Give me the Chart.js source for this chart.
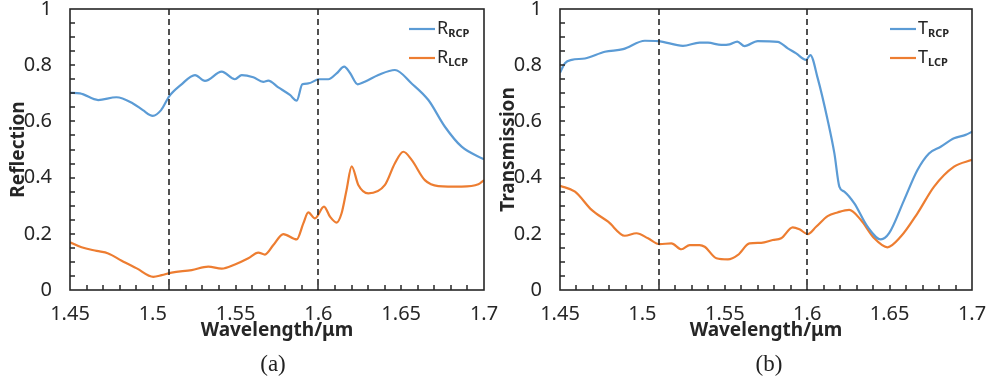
<!DOCTYPE html>
<html>
<head>
<meta charset="utf-8">
<script src="https://cdn.jsdelivr.net/npm/chart.js@4"></script>
<style>
  body { margin: 0; background: #fff; width: 986px; height: 381px; position: relative; overflow: hidden; }
  .box { position: absolute; top: 0; height: 381px; }
  .cap { position: absolute; top: 351px; width: 80px; text-align: center; line-height: 26px;
         font: 23px "Liberation Serif", serif; color: #222; }
</style>
</head>
<body>
<div class="box" style="left:0;width:510px"><canvas id="chartA"></canvas></div>
<div class="box" style="left:490px;width:496px"><canvas id="chartB"></canvas></div>
<div class="cap" style="left:233px">(a)</div>
<div class="cap" style="left:729px">(b)</div>
<script>
// (a) reflection
const wlRrcp = [1.450, 1.456, 1.467, 1.478, 1.488, 1.494, 1.500, 1.505, 1.510, 1.517, 1.5255, 1.5315, 1.5416,
  1.5496, 1.5537, 1.5607, 1.5667, 1.5697, 1.5758, 1.5828, 1.5869, 1.5903, 1.5939, 1.6004, 1.606, 1.611, 1.6156,
  1.619, 1.6237, 1.628, 1.6362, 1.6462, 1.6563, 1.6664, 1.6764, 1.6865, 1.700];
const rRcp = [0.702, 0.700, 0.676, 0.686, 0.664, 0.640, 0.620, 0.640, 0.690, 0.730, 0.765, 0.744, 0.777,
  0.750, 0.765, 0.757, 0.741, 0.745, 0.721, 0.694, 0.674, 0.732, 0.735, 0.750, 0.750, 0.771, 0.795,
  0.773, 0.732, 0.741, 0.765, 0.783, 0.735, 0.676, 0.581, 0.510, 0.465];
const wlRlcp = [1.450, 1.457, 1.4661, 1.4731, 1.4812, 1.4903, 1.5003, 1.5054, 1.5114, 1.5235, 1.5335, 1.5416,
  1.5496, 1.5577, 1.5637, 1.5677, 1.5728, 1.5788, 1.5869, 1.5909, 1.5939, 1.5979, 1.6034, 1.607, 1.611, 1.614,
  1.617, 1.6201, 1.6241, 1.6301, 1.6402, 1.6462, 1.6513, 1.6563, 1.6643, 1.6724, 1.6865, 1.6966, 1.700];
const rLcp = [0.170, 0.152, 0.139, 0.130, 0.104, 0.077, 0.047, 0.053, 0.062, 0.071, 0.083, 0.076,
  0.091, 0.113, 0.133, 0.126, 0.160, 0.199, 0.180, 0.237, 0.276, 0.255, 0.297, 0.261, 0.240, 0.273,
  0.356, 0.440, 0.374, 0.344, 0.374, 0.451, 0.492, 0.463, 0.391, 0.370, 0.368, 0.376, 0.391];

// (b) transmission
const wlTrcp = [1.450, 1.453, 1.4571, 1.4651, 1.4772, 1.4883, 1.5015, 1.5095, 1.5246, 1.5347, 1.5398, 1.5479,
  1.5529, 1.5576, 1.562, 1.570, 1.5821, 1.5882, 1.5933, 1.5993, 1.6019, 1.6064, 1.6124, 1.6165, 1.6195, 1.6225,
  1.6286, 1.6366, 1.6447, 1.6497, 1.6588, 1.6669, 1.6739, 1.681, 1.6891, 1.6961, 1.700];
const tRcp = [0.773, 0.807, 0.819, 0.824, 0.848, 0.857, 0.887, 0.886, 0.869, 0.880, 0.880, 0.872,
  0.874, 0.884, 0.868, 0.886, 0.883, 0.860, 0.842, 0.819, 0.836, 0.753, 0.605, 0.486, 0.368, 0.350,
  0.308, 0.225, 0.180, 0.202, 0.320, 0.427, 0.486, 0.510, 0.540, 0.552, 0.563];
const wlTlcp = [1.450, 1.4591, 1.4692, 1.4792, 1.4893, 1.4964, 1.5034, 1.5105, 1.5176, 1.5237, 1.5287, 1.5347,
  1.5378, 1.5449, 1.5519, 1.558, 1.565, 1.5721, 1.5791, 1.5842, 1.5912, 1.5953, 1.6003, 1.6054, 1.6124, 1.6184,
  1.6255, 1.6326, 1.6407, 1.6487, 1.6568, 1.6669, 1.677, 1.6891, 1.700];
const tLcp = [0.371, 0.350, 0.285, 0.243, 0.193, 0.202, 0.184, 0.163, 0.166, 0.145, 0.160, 0.160,
  0.154, 0.113, 0.109, 0.125, 0.166, 0.168, 0.178, 0.184, 0.223, 0.216, 0.199, 0.225, 0.263, 0.276,
  0.285, 0.249, 0.184, 0.152, 0.190, 0.273, 0.368, 0.439, 0.463];

const markers = [1.51, 1.6];
const minorX = 0.01, minorY = 0.05;
const blue = '#5b9bd5', orange = '#ed7d31', ink = '#262626';
const sans = '"Noto Sans", "DejaVu Sans", sans-serif';

const pair = (xs, ys) => xs.map((x, i) => ({ x: x, y: ys[i] }));

// box, inward ticks, dashed markers and the in-plot legend
const frame = {
  id: 'frame',
  afterDatasetsDraw(chart, args, opts) {
    const { ctx, chartArea: a, scales } = chart;
    const xs = scales.x, ys = scales.y;
    ctx.save();
    ctx.strokeStyle = ink;
    ctx.lineWidth = 1.6;
    ctx.setLineDash([6, 4]);
    markers.forEach((m) => {
      const px = Math.round(xs.getPixelForValue(m));
      ctx.beginPath(); ctx.moveTo(px, a.top); ctx.lineTo(px, a.bottom); ctx.stroke();
    });
    ctx.setLineDash([]);
    ctx.lineWidth = 1.5;
    const nx = Math.round((xs.max - xs.min) / minorX);
    for (let i = 1; i < nx; i++) {
      const px = Math.round(xs.getPixelForValue(xs.min + i * minorX));
      ctx.beginPath(); ctx.moveTo(px, a.bottom); ctx.lineTo(px, a.bottom - 5); ctx.stroke();
    }
    const ny = Math.round((ys.max - ys.min) / minorY);
    for (let i = 1; i < ny; i++) {
      const py = Math.round(ys.getPixelForValue(ys.min + i * minorY));
      ctx.beginPath(); ctx.moveTo(a.left, py); ctx.lineTo(a.left + 5, py); ctx.stroke();
    }
    ctx.lineWidth = 1.6;
    ctx.strokeRect(a.left, a.top, a.right - a.left, a.bottom - a.top);

    chart.data.datasets.forEach((d, i) => {
      const y = a.top + 20 + i * 29;
      const x0 = a.right - opts.legendOffset;
      ctx.strokeStyle = d.borderColor;
      ctx.lineWidth = 2.2;
      ctx.beginPath(); ctx.moveTo(x0, y); ctx.lineTo(x0 + 26, y); ctx.stroke();
      ctx.fillStyle = ink;
      ctx.textBaseline = 'middle';
      ctx.font = '18px ' + sans;
      ctx.fillText(d.label, x0 + 28, y);
      const w = ctx.measureText(d.label).width;
      ctx.font = 'bold 11px ' + sans;
      ctx.fillText(d.sub, x0 + 28 + w, y + 5);
    });
    ctx.restore();
  }
};

function makeChart(id, yTitle, sets, padRight, legendOffset) {
  new Chart(document.getElementById(id), {
    type: 'line',
    data: {
      datasets: sets.map((s) => ({
        label: s.label, sub: s.sub, data: s.data,
        borderColor: s.color, backgroundColor: s.color,
        borderWidth: 2.2, pointRadius: 0, cubicInterpolationMode: 'monotone', fill: false
      }))
    },
    options: {
      responsive: true,
      maintainAspectRatio: false,
      animation: false,
      layout: { padding: { top: 9, right: padRight, bottom: 36, left: 0 } },
      plugins: { legend: { display: false }, tooltip: { enabled: false }, frame: { legendOffset: legendOffset } },
      scales: {
        x: {
          type: 'linear', min: 1.45, max: 1.7,
          grid: { display: false }, border: { display: false },
          ticks: {
            stepSize: 0.05, autoSkip: false, maxRotation: 0, padding: 4, color: ink,
            font: { family: sans, size: 20 },
            callback: (v) => String(+v.toFixed(2))
          },
          title: { display: true, text: 'Wavelength/\u03bcm', color: ink,
            font: { family: sans, size: 19, weight: 'bold' }, padding: { top: 0, bottom: 3 } },
          afterFit: (s) => { s.height = 55; s.paddingLeft = 0; s.paddingRight = 0; }
        },
        y: {
          min: 0, max: 1,
          grid: { display: false }, border: { display: false },
          ticks: {
            stepSize: 0.2, autoSkip: false, padding: 10, color: ink,
            font: { family: sans, size: 20 },
            callback: (v) => String(+v.toFixed(1))
          },
          title: { display: true, text: yTitle, color: ink,
            font: { family: sans, size: 19, weight: 'bold' }, padding: { top: 7, bottom: 0 } },
          afterFit: (s) => { s.width = 70; s.paddingTop = 0; s.paddingBottom = 0; }
        }
      }
    },
    plugins: [frame]
  });
}

makeChart('chartA', 'Reflection', [
  { label: 'R', sub: 'RCP', color: blue, data: pair(wlRrcp, rRcp) },
  { label: 'R', sub: 'LCP', color: orange, data: pair(wlRlcp, rLcp) }
], 26, 75);

makeChart('chartB', 'Transmission', [
  { label: 'T', sub: 'RCP', color: blue, data: pair(wlTrcp, tRcp) },
  { label: 'T', sub: 'LCP', color: orange, data: pair(wlTlcp, tLcp) }
], 14, 82);
</script>
</body>
</html>
